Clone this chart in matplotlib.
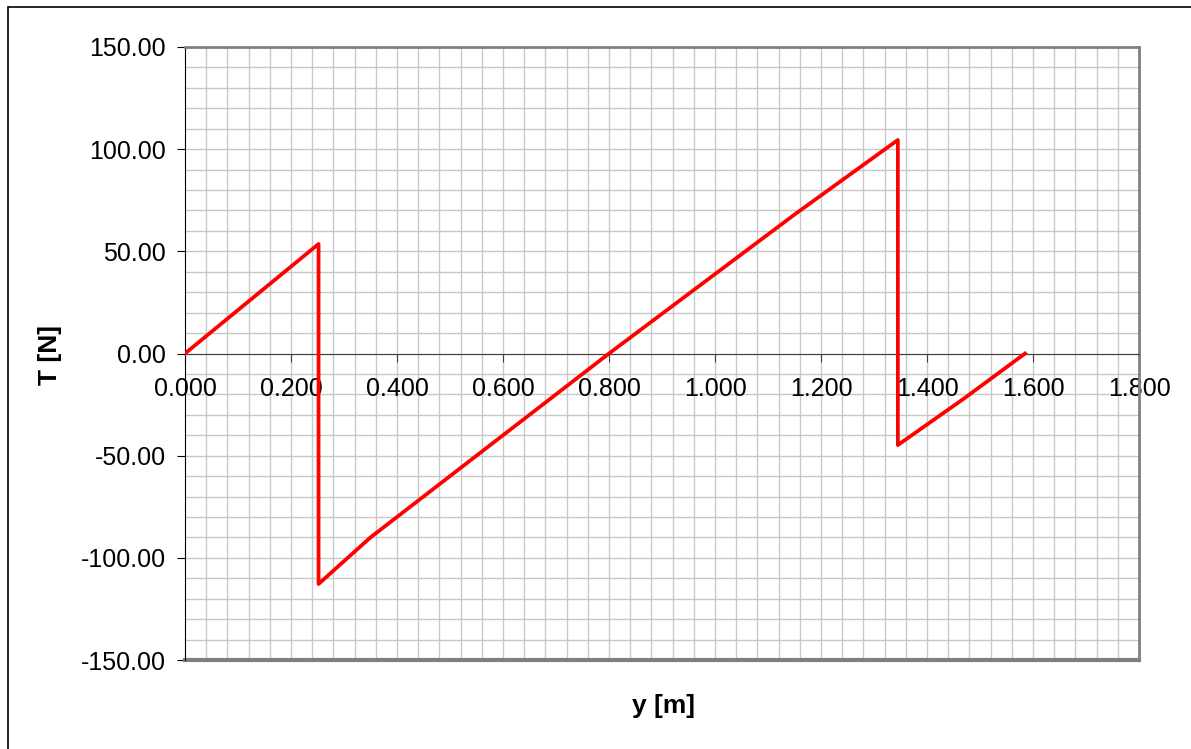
import numpy as np
import matplotlib.pyplot as plt
from matplotlib.patches import Rectangle
from matplotlib.ticker import MultipleLocator, FormatStrFormatter

plt.rcParams['font.family'] = ['Liberation Sans', 'DejaVu Sans']

# shear force along the beam
y_pos = [0.0, 0.252, 0.252, 0.35, 0.80, 1.15, 1.345, 1.345, 1.47, 1.585]
T_val = [0.0, 53.6, -112.8, -90.0, 0.0, 68.0, 104.5, -44.8, -22.0, 0.0]

fig = plt.figure(figsize=(11.91, 7.49), dpi=100)
ax = fig.add_axes([185/1191, 1 - 660/749, (1139-185)/1191, (660-47)/749])

ax.set_xlim(0, 1.8)
ax.set_ylim(-150, 150)

# grid drawn by hand so the tick labels sit on top of it
ax.vlines(np.arange(0.04, 1.8, 0.04), -150, 150, color='#c8c8c8', lw=1.0, zorder=0.2)
ax.hlines(np.arange(-140, 150, 10), 0, 1.8, color='#c8c8c8', lw=1.0, zorder=0.2)

ax.plot(y_pos, T_val, color='red', lw=2.7, zorder=5)

ax.xaxis.set_major_locator(MultipleLocator(0.2))
ax.yaxis.set_major_locator(MultipleLocator(50))
ax.xaxis.set_major_formatter(FormatStrFormatter('%.3f'))
ax.yaxis.set_major_formatter(FormatStrFormatter('%.2f'))

ax.spines['bottom'].set_position(('data', 0))
ax.spines['bottom'].set_color('#404040')
ax.spines['left'].set_color('black')
ax.spines['top'].set_color('#808080')
ax.spines['right'].set_color('#808080')
ax.spines['top'].set_linewidth(2)
ax.spines['right'].set_linewidth(2)
ax.axhline(-150, color='#808080', lw=3, clip_on=False)

ax.tick_params(axis='x', which='major', direction='out', length=6, pad=11,
               labelsize=18, color='#404040')
ax.tick_params(axis='y', which='major', direction='out', length=6, pad=8,
               labelsize=18)

fig.text(50/1191, 1 - 355/749, 'T [N]', rotation=90, fontsize=19,
         fontweight='bold', ha='center', va='center')
fig.text(663/1191, 1 - 706/749, 'y [m]', fontsize=19,
         fontweight='bold', ha='center', va='center')

fig.patches.append(Rectangle((8/1191, -0.1), 1.2, 1.1 - 7/749,
                             transform=fig.transFigure, fill=False,
                             edgecolor='black', lw=1.2))

fig.savefig('out.png', dpi=100)
